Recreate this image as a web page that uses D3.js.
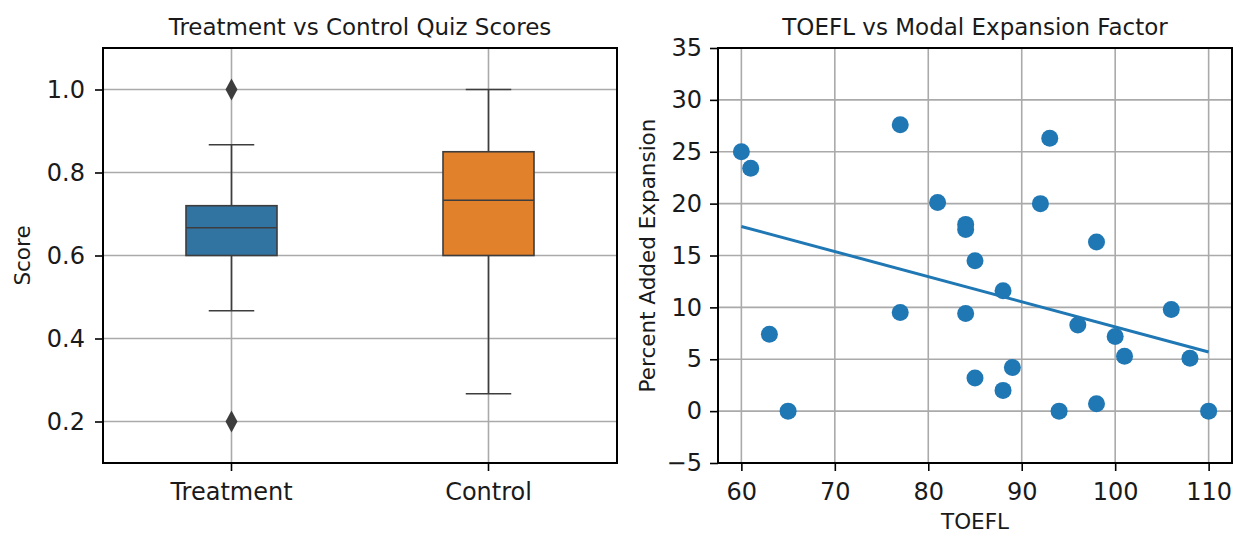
<!DOCTYPE html>
<html>
<head>
<meta charset="utf-8">
<script src="https://cdn.jsdelivr.net/npm/d3@7"></script>
<style>
  body { margin: 0; background: #fff; }
  text { font-family: "DejaVu Sans", sans-serif; fill: #1a1a1a; }
</style>
</head>
<body>
<svg id="chart" width="1239" height="535"></svg>
<script>
// box plot summary
const groups = ['Treatment', 'Control'];
const boxColors = ['#3274a1', '#e1812c'];
const q1 = [0.6, 0.6];
const medians = [0.667, 0.733];
const q3 = [0.72, 0.85];
const whiskerLow = [0.467, 0.267];
const whiskerHigh = [0.867, 1.0];
const outliers = [[1.0, 0.2], []];
const scoreTicks = [0.2, 0.4, 0.6, 0.8, 1.0];

// scatter points
const toefl = [60, 61, 63, 65, 77, 77, 81, 84, 84, 84, 85, 85, 88, 88, 89, 92, 93, 94, 96, 98, 98, 100, 101, 106, 108, 110];
const expansion = [25.0, 23.4, 7.4, 0, 27.6, 9.5, 20.1, 17.5, 18.0, 9.4, 14.5, 3.2, 11.6, 2.0, 4.2, 20.0, 26.3, 0, 8.3, 16.3, 0.7, 7.2, 5.3, 9.8, 5.1, 0];
// fitted line ends
const fitX = [60, 110];
const fitY = [17.8, 5.7];
const toeflTicks = [60, 70, 80, 90, 100, 110];
const expansionTicks = [-5, 0, 5, 10, 15, 20, 25, 30, 35];

const svg = d3.select('#chart');
const yTop = 48, yBottom = 463;
const gridColor = '#aaaaaa';
const lineGray = '#3d3d3d';
const tickSize = 24;
const labelSize = '21.5px';
const titleSize = '23px';

// ---------- left: box plot ----------
const left = {x0: 103, x1: 617};
const xBand = d3.scaleBand().domain(groups).range([left.x0, left.x1]);
const yScore = d3.scaleLinear().domain([0.1, 1.1]).range([yBottom, yTop]);

const gL = svg.append('g');

// grid
gL.selectAll('.hgrid').data(scoreTicks).join('line')
  .attr('x1', left.x0).attr('x2', left.x1)
  .attr('y1', d => yScore(d)).attr('y2', d => yScore(d))
  .attr('stroke', gridColor).attr('stroke-width', 1.6);
gL.selectAll('.vgrid').data(groups).join('line')
  .attr('x1', d => xBand(d) + xBand.bandwidth() / 2)
  .attr('x2', d => xBand(d) + xBand.bandwidth() / 2)
  .attr('y1', yTop).attr('y2', yBottom)
  .attr('stroke', gridColor).attr('stroke-width', 1.6);

const boxW = 91;
groups.forEach((g, i) => {
  const cx = xBand(g) + xBand.bandwidth() / 2;
  // whiskers
  gL.append('line').attr('x1', cx).attr('x2', cx)
    .attr('y1', yScore(q3[i])).attr('y2', yScore(whiskerHigh[i]))
    .attr('stroke', lineGray).attr('stroke-width', 1.6);
  gL.append('line').attr('x1', cx).attr('x2', cx)
    .attr('y1', yScore(q1[i])).attr('y2', yScore(whiskerLow[i]))
    .attr('stroke', lineGray).attr('stroke-width', 1.6);
  // caps
  [whiskerHigh[i], whiskerLow[i]].forEach(v => {
    gL.append('line').attr('x1', cx - boxW / 4).attr('x2', cx + boxW / 4)
      .attr('y1', yScore(v)).attr('y2', yScore(v))
      .attr('stroke', lineGray).attr('stroke-width', 1.6);
  });
  // box
  gL.append('rect')
    .attr('x', cx - boxW / 2).attr('width', boxW)
    .attr('y', yScore(q3[i])).attr('height', yScore(q1[i]) - yScore(q3[i]))
    .attr('fill', boxColors[i]).attr('stroke', lineGray).attr('stroke-width', 1.6);
  gL.append('line').attr('x1', cx - boxW / 2).attr('x2', cx + boxW / 2)
    .attr('y1', yScore(medians[i])).attr('y2', yScore(medians[i]))
    .attr('stroke', lineGray).attr('stroke-width', 1.6);
  // outliers
  gL.selectAll(null).data(outliers[i]).join('path')
    .attr('transform', d => `translate(${cx},${yScore(d)})`)
    .attr('d', 'M0,-11L6,0L0,11L-6,0Z')
    .attr('fill', lineGray);
});

// frame + axes
gL.append('rect').attr('x', left.x0).attr('y', yTop)
  .attr('width', left.x1 - left.x0).attr('height', yBottom - yTop)
  .attr('fill', 'none').attr('stroke', '#000').attr('stroke-width', 2);

const axL = gL.append('g').attr('transform', `translate(${left.x0},0)`)
  .call(d3.axisLeft(yScore).tickValues(scoreTicks).tickFormat(d3.format('.1f')).tickSize(8).tickPadding(10));
const axB = gL.append('g').attr('transform', `translate(0,${yBottom})`)
  .call(d3.axisBottom(xBand).tickSize(8).tickPadding(12));
[axL, axB].forEach(a => {
  a.select('.domain').remove();
  a.selectAll('line').attr('stroke', '#000').attr('stroke-width', 1.6);
  a.selectAll('text').style('font-size', tickSize + 'px').attr('fill', '#1a1a1a');
});

gL.append('text').attr('x', (left.x0 + left.x1) / 2).attr('y', 35)
  .attr('text-anchor', 'middle').style('font-size', titleSize)
  .text('Treatment vs Control Quiz Scores');
gL.append('text')
  .attr('transform', `translate(30,${(yTop + yBottom) / 2}) rotate(-90)`)
  .attr('text-anchor', 'middle').style('font-size', labelSize)
  .text('Score');

// ---------- right: scatter ----------
const right = {x0: 718, x1: 1232};
const xT = d3.scaleLinear().domain([57.5, 112.5]).range([right.x0, right.x1]);
const yE = d3.scaleLinear().domain([-5, 35]).range([yBottom, yTop]);

const gR = svg.append('g');
gR.selectAll('.hgrid').data(expansionTicks).join('line')
  .attr('x1', right.x0).attr('x2', right.x1)
  .attr('y1', d => yE(d)).attr('y2', d => yE(d))
  .attr('stroke', gridColor).attr('stroke-width', 1.6);
gR.selectAll('.vgrid').data(toeflTicks).join('line')
  .attr('x1', d => xT(d)).attr('x2', d => xT(d))
  .attr('y1', yTop).attr('y2', yBottom)
  .attr('stroke', gridColor).attr('stroke-width', 1.6);

gR.selectAll('circle').data(toefl).join('circle')
  .attr('cx', d => xT(d))
  .attr('cy', (d, i) => yE(expansion[i]))
  .attr('r', 8.5)
  .attr('fill', '#1f77b4');

gR.append('path')
  .datum(fitX.map((x, i) => [x, fitY[i]]))
  .attr('d', d3.line().x(d => xT(d[0])).y(d => yE(d[1])))
  .attr('fill', 'none').attr('stroke', '#1f77b4').attr('stroke-width', 3);

gR.append('rect').attr('x', right.x0).attr('y', yTop)
  .attr('width', right.x1 - right.x0).attr('height', yBottom - yTop)
  .attr('fill', 'none').attr('stroke', '#000').attr('stroke-width', 2);

const axRL = gR.append('g').attr('transform', `translate(${right.x0},0)`)
  .call(d3.axisLeft(yE).tickValues(expansionTicks).tickFormat(d => d < 0 ? '\u2212' + Math.abs(d) : d).tickSize(8).tickPadding(8));
const axRB = gR.append('g').attr('transform', `translate(0,${yBottom})`)
  .call(d3.axisBottom(xT).tickValues(toeflTicks).tickSize(8).tickPadding(12));
[axRL, axRB].forEach(a => {
  a.select('.domain').remove();
  a.selectAll('line').attr('stroke', '#000').attr('stroke-width', 1.6);
  a.selectAll('text').style('font-size', tickSize + 'px').attr('fill', '#1a1a1a');
});

gR.append('text').attr('x', (right.x0 + right.x1) / 2).attr('y', 35)
  .attr('text-anchor', 'middle').style('font-size', titleSize)
  .text('TOEFL vs Modal Expansion Factor');
gR.append('text').attr('x', (right.x0 + right.x1) / 2).attr('y', 529)
  .attr('text-anchor', 'middle').style('font-size', labelSize)
  .text('TOEFL');
gR.append('text')
  .attr('transform', `translate(655,${(yTop + yBottom) / 2}) rotate(-90)`)
  .attr('text-anchor', 'middle').style('font-size', labelSize)
  .text('Percent Added Expansion');
</script>
</body>
</html>
